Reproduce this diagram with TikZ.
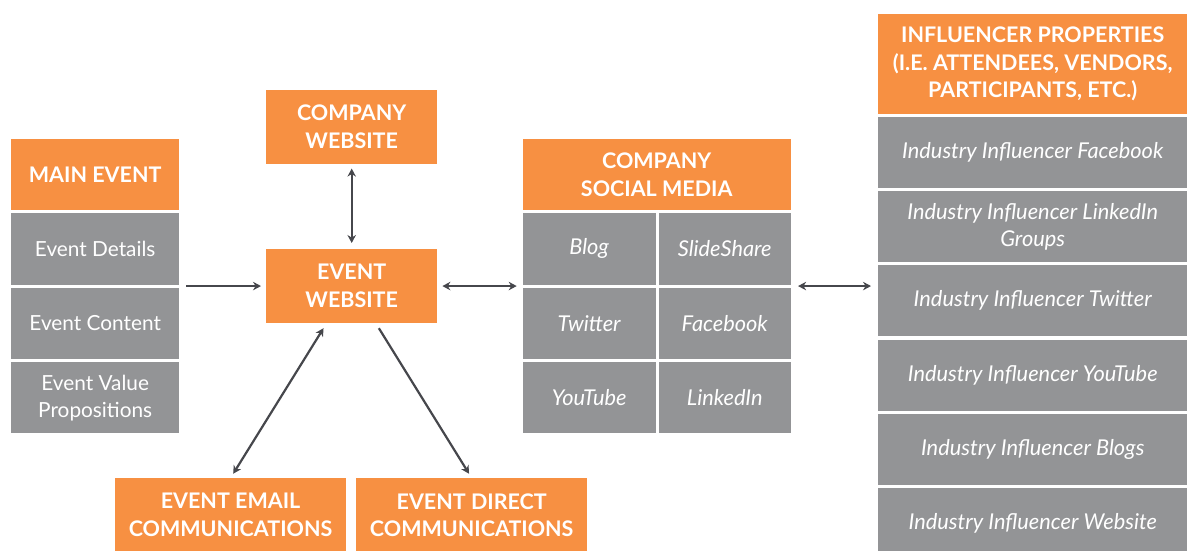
\documentclass[tikz,border=0pt]{standalone}
\usepackage{fontspec}
\setmainfont{Lato}
\usetikzlibrary{positioning, arrows.meta}
\definecolor{evorange}{RGB}{247,144,66}
\definecolor{evgray}{RGB}{147,148,150}
\definecolor{evarrow}{RGB}{70,71,76}

\begin{document}
\begin{tikzpicture}[
    x=1pt, y=-1pt,
    head/.style={rectangle, fill=evorange, text=white, inner sep=0pt, align=center,
                 anchor=north west, font=\fontsize{21.5}{27.8}\selectfont\bfseries},
    cell/.style={rectangle, fill=evgray, text=white, inner sep=0pt, align=center,
                 minimum height=71.3pt, font=\fontsize{20.8}{27}\selectfont},
    icell/.style={cell, font=\fontsize{21.8}{27}\selectfont\itshape},
    arr/.style={{Stealth[length=8pt, width=8.5pt]}-{Stealth[length=8pt, width=8.5pt]},
                line width=2.2pt, color=evarrow},
    onearr/.style={-{Stealth[length=8pt, width=8.5pt]}, line width=2.2pt, color=evarrow}
  ]
  \useasboundingbox (0,0) rectangle (1187,551);

  % Main event column
  \node[head, minimum width=168pt, minimum height=71pt] (mainhead) at (11,139) {MAIN EVENT};
  \node[cell, minimum width=168pt, below=2.7pt of mainhead] (details) {Event Details};
  \node[cell, minimum width=168pt, below=2.7pt of details] (content) {Event Content};
  \node[cell, minimum width=168pt, below=2.7pt of content] (value) {Event Value\\Propositions};

  % Websites
  \node[head, minimum width=171pt, minimum height=73.7pt] (compweb) at (266,90) {COMPANY\\WEBSITE};
  \node[head, minimum width=171pt, minimum height=73.7pt] (evweb) at (266,249) {EVENT\\WEBSITE};

  % Communications
  \node[head, minimum width=230.7pt, minimum height=74pt] (email) at (115,478) {EVENT EMAIL\\COMMUNICATIONS};
  \node[head, minimum width=231pt, minimum height=74pt] (direct) at (356,478) {EVENT DIRECT\\COMMUNICATIONS};

  % Company social media grid
  \node[head, minimum width=267.6pt, minimum height=71pt] (smhead) at (522.7,139) {COMPANY\\SOCIAL MEDIA};
  \node[icell, minimum width=132.6pt, below right=2.7pt and 0pt of smhead.south west] (blog) {Blog};
  \node[icell, minimum width=132.3pt, right=2.7pt of blog] (slides) {SlideShare};
  \node[icell, minimum width=132.6pt, below=2.7pt of blog] (twitter) {Twitter};
  \node[icell, minimum width=132.3pt, right=2.7pt of twitter] (facebook) {Facebook};
  \node[icell, minimum width=132.6pt, below=2.7pt of twitter] (youtube) {YouTube};
  \node[icell, minimum width=132.3pt, right=2.7pt of youtube] (linkedin) {LinkedIn};

  % Influencer properties column
  \node[head, minimum width=309pt, minimum height=99.3pt] (infhead) at (878,14)
    {INFLUENCER PROPERTIES\\(I.E. ATTENDEES, VENDORS,\\PARTICIPANTS, ETC.)};
  \node[icell, minimum width=309pt, minimum height=71.2pt, below=2.7pt of infhead] (inffb) {Industry Influencer Facebook};
  \node[icell, minimum width=309pt, minimum height=71.2pt, below=2.7pt of inffb] (inflinked) {Industry Influencer LinkedIn\\Groups};
  \node[icell, minimum width=309pt, minimum height=71.2pt, below=2.7pt of inflinked] (inftw) {Industry Influencer Twitter};
  \node[icell, minimum width=309pt, minimum height=71.2pt, below=2.7pt of inftw] (infyt) {Industry Influencer YouTube};
  \node[icell, minimum width=309pt, minimum height=71.2pt, below=2.7pt of infyt] (infblogs) {Industry Influencer Blogs};
  \node[icell, minimum width=309pt, minimum height=71.2pt, below=2.7pt of infblogs] (infweb) {Industry Influencer Website};

  % Arrows
  \draw[onearr, shorten <=6.7pt, shorten >=5pt] (evweb.west -| mainhead.east) -- (evweb.west);
  \draw[arr, shorten <=4.5pt, shorten >=6pt] (compweb) -- (evweb);
  \draw[arr, shorten <=5pt, shorten >=6pt] (evweb.east) -- (evweb.east -| smhead.west);
  \draw[arr, shorten <=7.4pt, shorten >=7pt] (evweb.east -| smhead.east) -- (evweb.east -| infhead.west);
  \draw[arr, shorten <=6pt, shorten >=5pt] ([xshift=-25pt]evweb.south) -- (email.north);
  \draw[onearr, shorten <=6pt, shorten >=5pt] ([xshift=24pt]evweb.south) -- (direct.north);
\end{tikzpicture}
\end{document}
